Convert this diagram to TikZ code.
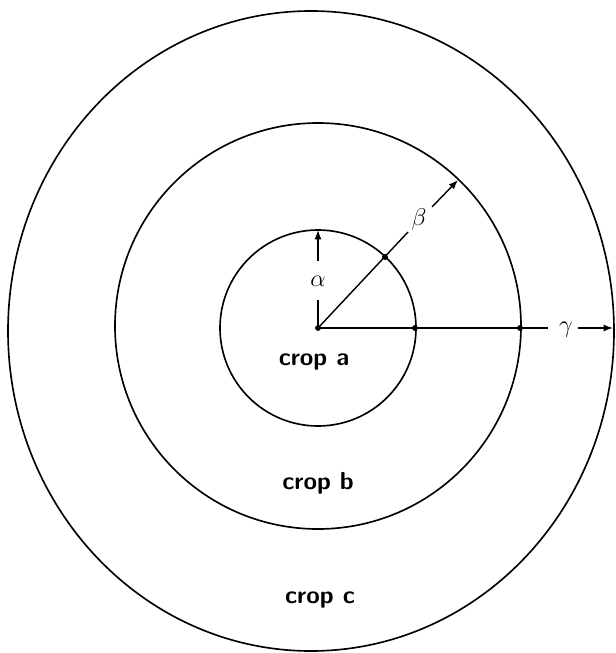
\documentclass[tikz,border=0pt]{standalone}
\usetikzlibrary{calc,positioning,arrows.meta}
\tikzset{
 zone ring/.style={line width=1.4pt},
 zone radius/.style={line width=1.2pt},
 zone dot/.style={circle,fill=black,draw=black,minimum size=4.5pt,
                  inner sep=0pt,outer sep=0pt},
 zone label/.style={font=\sffamily\bfseries\fontsize{21}{25}\selectfont},
 radius label/.style={font=\fontsize{22}{24}\selectfont,inner sep=0pt}
}
\begin{document}
\begin{tikzpicture}[x=0.03cm,y=-0.03cm,>={Latex[length=8pt,width=6pt]}]
 \useasboundingbox (0,0) rectangle (615,653);
 \coordinate (O) at (318,328);

 % the three fields
 \draw[zone ring] (O) circle[radius=98];
 \draw[zone ring] (318,326) circle[radius=203];
 \draw[zone ring] (311,331) ellipse[x radius=303,y radius=320];

 % alpha
 \coordinate (a1) at (318,300);
 \coordinate (a2) at (318,261);
 \coordinate (a3) at (318,230);
 \node[radius label] (alpha) at (318,281) {$\alpha$};
 \draw[zone radius] (O) -- (a1);
 \draw[zone radius,->] (a2) -- (a3);

 % beta
 \coordinate (b1) at (408,232);
 \coordinate (b2) at (432,207);
 \coordinate (b3) at (458,180);
 \node[radius label] (beta) at (419,219) {$\beta$};
 \draw[zone radius] (O) -- (b1);
 \draw[zone radius,->] (b2) -- (b3);

 % gamma
 \coordinate (g1) at (548,328);
 \coordinate (g2) at (578,328);
 \coordinate (g3) at (613,328);
 \node[radius label] (gamma) at (566,330) {$\gamma$};
 \draw[zone radius] (O) -- (g1);
 \draw[zone radius,->] (g2) -- (g3);

 \node[zone dot] (d0) at (O) {};
 \node[zone dot] (d1) at (385,257) {};
 \node[zone dot] (d2) at (415,328) {};
 \node[zone dot] (d3) at (520,328) {};

 \node[zone label] (cropa) at (314,362) {crop a};
 \node[zone label] (cropb) at (318,483) {crop b};
 \node[zone label] (cropc) at (320,600) {crop c};
\end{tikzpicture}
\end{document}
